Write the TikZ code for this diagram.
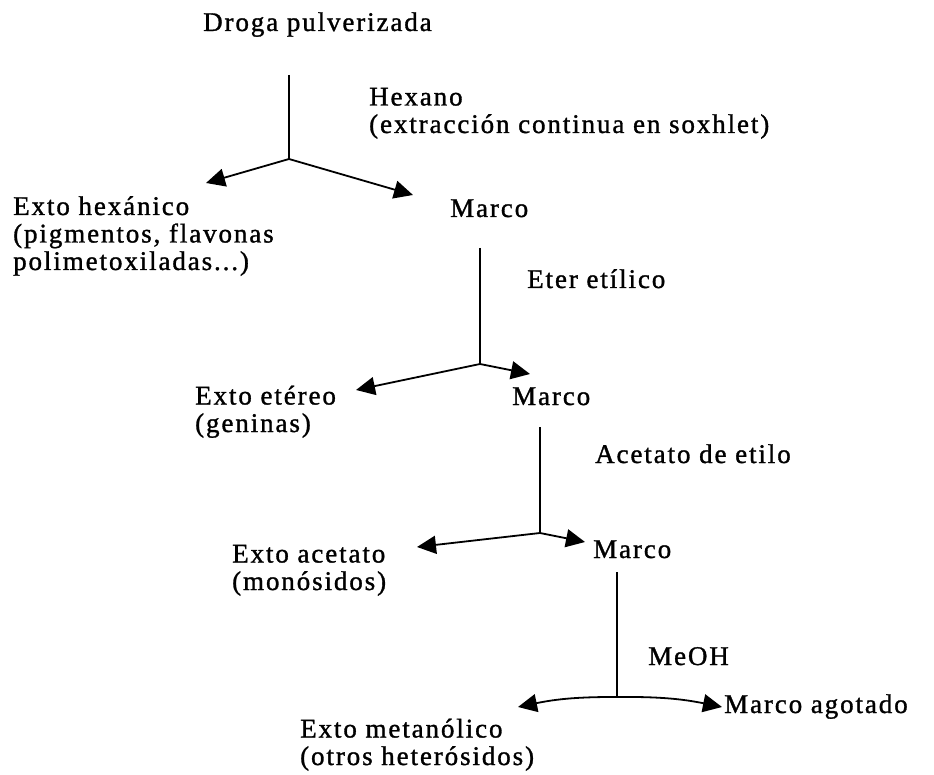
\documentclass[tikz,border=0pt]{standalone}
\usepackage{fontspec}
\setmainfont{Liberation Serif}[LetterSpace=7,FakeBold=1.2]
\usetikzlibrary{arrows.meta}
\begin{document}
\begin{tikzpicture}[x=1pt,y=-1pt,
  lab/.style={font=\fontsize{27}{27.5}\selectfont, anchor=base west, inner sep=0pt, align=left},
  vline/.style={line width=1.3pt},
  arr/.style={line width=1.8pt, -{Triangle[length=19pt,width=18pt]}}]
\useasboundingbox (0,0) rectangle (934,775);
% texts (multi-line nodes anchored at the baseline of their last line)
\node[lab] (droga) at (203,31) {Droga pulverizada};
\node[lab] (hex) at (369,133) {Hexano\\(extracción continua en soxhlet)};
\node[lab] (exhex) at (13,270) {Exto hexánico\\(pigmentos, flavonas\\polimetoxiladas...)};
\node[lab] (marco1) at (450,217) {Marco};
\node[lab] (eter) at (527,288) {Eter etílico};
\node[lab] (exet) at (195,432) {Exto etéreo\\(geninas)};
\node[lab] (marco2) at (512,405) {Marco};
\node[lab] (acet) at (595,463) {Acetato de etilo};
\node[lab] (exac) at (232,590) {Exto acetato\\(monósidos)};
\node[lab] (marco3) at (593,558) {Marco};
\node[lab] (meoh) at (648,665) {MeOH};
\node[lab] (exmet) at (300,765) {Exto metanólico\\(otros heterósidos)};
\node[lab] (agot) at (724,713) {Marco agotado};
% coordinates
\coordinate (t1) at (289,75);  \coordinate (j1) at (289,159);
\coordinate (a1L) at (206,183); \coordinate (a1R) at (413,195);
\coordinate (t2) at (480,248); \coordinate (j2) at (480,364);
\coordinate (a2L) at (356,390); \coordinate (a2R) at (530,374);
\coordinate (t3) at (540,427); \coordinate (j3) at (540,533);
\coordinate (a3L) at (417,547); \coordinate (a3R) at (585,542);
\coordinate (t4) at (617,572); \coordinate (j4) at (617,697);
\coordinate (a4L) at (518,707); \coordinate (a4R) at (722,707);
% connectors
\draw[vline] (t1) -- (j1);
\draw[arr] (j1) -- (a1L);
\draw[arr] (j1) -- (a1R);
\draw[vline] (t2) -- (j2);
\draw[arr] (j2) -- (a2L);
\draw[arr] (j2) -- (a2R);
\draw[vline] (t3) -- (j3);
\draw[arr] (j3) -- (a3L);
\draw[arr] (j3) -- (a3R);
\draw[vline] (t4) -- (j4);
\draw[arr] (j4) to[bend right=6] (a4L);
\draw[arr] (j4) to[bend left=6] (a4R);
\end{tikzpicture}
\end{document}
